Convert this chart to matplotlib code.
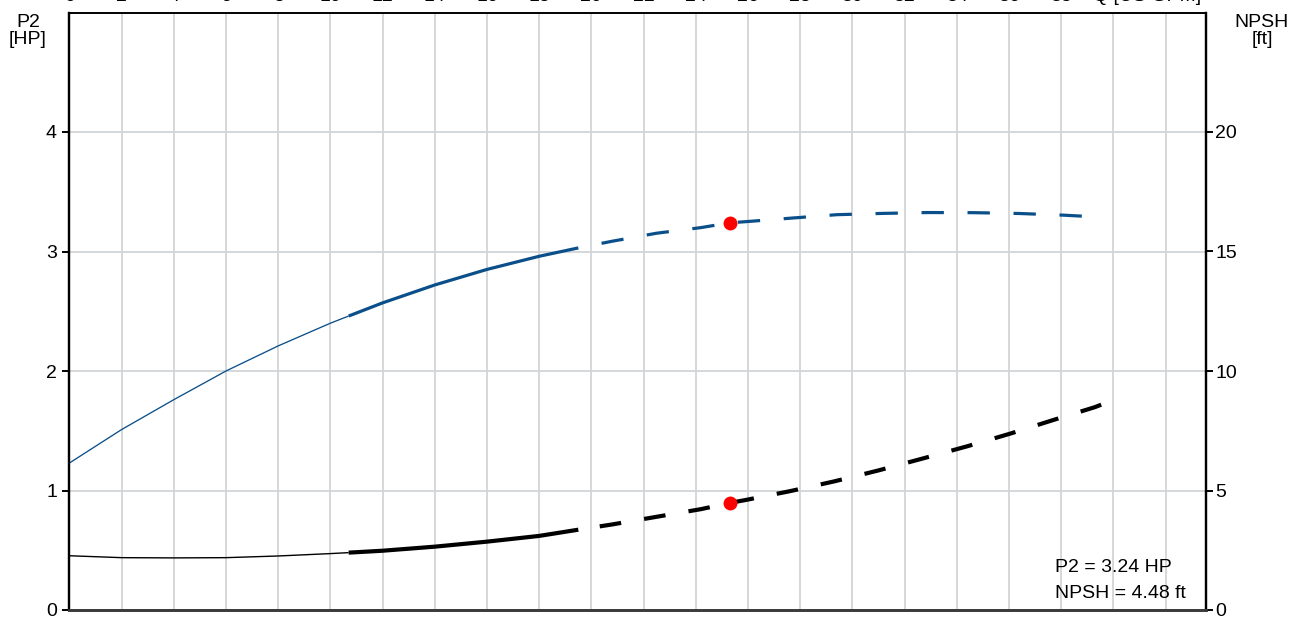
import matplotlib
matplotlib.use("Agg")
import matplotlib.pyplot as plt
from matplotlib.transforms import ScaledTranslation
import numpy as np

plt.rcParams['font.family'] = ['Liberation Sans', 'DejaVu Sans']

# Flow rate [US GPM] and shaft power P2 [HP]
q_p2 = [0, 2, 4, 6, 8, 10, 10.7, 12, 14, 16, 18, 19.5, 20.8, 22.5, 24.2,
        25.3, 26.0, 27.7, 29.4, 31.2, 32.9, 34.65, 36.4, 38.1, 39.55]
p2 = [1.23, 1.51, 1.76, 2.00, 2.21, 2.40, 2.46, 2.57, 2.72, 2.85, 2.96, 3.03,
      3.086, 3.153, 3.20, 3.24, 3.251, 3.28, 3.308, 3.319, 3.326, 3.325,
      3.318, 3.304, 3.287]

# Flow rate [US GPM] and NPSH [ft]
q_npsh = [0, 2, 4, 6, 8, 10, 10.7, 12, 14, 16, 18, 19.5, 20.8, 22.5, 24.2,
          25.3, 25.9, 27.6, 29.3, 31.0, 32.7, 34.4, 36.05, 37.7, 39.3, 39.58]
npsh = [2.27, 2.19, 2.18, 2.19, 2.26, 2.36, 2.40, 2.48, 2.65, 2.86, 3.10, 3.36,
        3.58, 3.90, 4.22, 4.48, 4.60, 4.97, 5.38, 5.84, 6.34, 6.85, 7.38,
        7.95, 8.49, 8.61]

# Operating range limits (thin -> thick -> dashed) and duty point
q_low, q_high = 10.7, 19.5
duty_q = 25.3
duty_p2 = 3.24
duty_npsh = 4.48

x_ticks = list(range(0, 44, 2))
x_tick_labels = [str(v) for v in range(0, 40, 2)] + ['', '']
p2_ticks = [0, 1, 2, 3, 4]
npsh_ticks = [0, 5, 10, 15, 20]

blue = '#0b4f8a'
grid_c = '#d2d5d8'

W, H = 1305, 617
fig = plt.figure(figsize=(W / 100, H / 100), dpi=100)
L, R, T, B = 69.4, 1206, 12.5, 610
ax = fig.add_axes([L / W, 1 - B / H, (R - L) / W, (B - T) / H])
ax2 = ax.twinx()

ax.set_xlim(0, 43.55)
ax.set_ylim(0, 5)
ax2.set_ylim(0, 25)


def split(q, v, lo, hi):
    q = np.asarray(q, float)
    v = np.asarray(v, float)
    a = q <= lo
    b = (q >= lo) & (q <= hi)
    c = q >= hi
    return (q[a], v[a]), (q[b], v[b]), (q[c], v[c])


# P2 curve
s1, s2, s3 = split(q_p2, p2, q_low, q_high)
ax.plot(*s1, color=blue, lw=0.95, solid_capstyle='butt', zorder=3)
ax.plot(*s2, color=blue, lw=2.3, solid_capstyle='butt', zorder=3)
ax.plot(*s3, color=blue, lw=2.3, linestyle=(7.0, (7.0, 7.4)),
        dash_capstyle='butt', zorder=3)
ax.plot([duty_q], [duty_p2], 'o', color='#ff0000', ms=10, mew=0, zorder=4)

# NPSH curve
n1, n2, n3 = split(q_npsh, npsh, q_low, q_high)
ax2.plot(*n1, color='black', lw=1.0, solid_capstyle='butt', zorder=3)
ax2.plot(*n2, color='black', lw=3.0, solid_capstyle='butt', zorder=3)
ax2.plot(*n3, color='black', lw=3.0, linestyle=(5.6, (5.2, 5.6)),
         dash_capstyle='butt', zorder=3)
ax2.plot([duty_q], [duty_npsh], 'o', color='#ff0000', ms=10, mew=0, zorder=4)

# Grid
ax.set_xticks(x_ticks)
ax.set_xticklabels(x_tick_labels)
ax.set_yticks(p2_ticks)
ax.grid(True, color=grid_c, lw=1.3, zorder=0)
ax.set_axisbelow(True)
ax2.set_yticks(npsh_ticks)

# Axes styling
fs = 14
top_pad = 5.5
ax.xaxis.tick_top()
ax.tick_params(axis='x', length=0, pad=top_pad, labelsize=fs)
ax.tick_params(axis='y', length=5, width=1.4, pad=4, labelsize=fs,
               direction='out')
ax2.tick_params(axis='y', length=5, width=1.4, pad=1.5, labelsize=fs,
                direction='out')
for a in (ax, ax2):
    a.spines['left'].set_linewidth(1.6)
    a.spines['right'].set_linewidth(1.6)
    a.spines['top'].set_linewidth(1.2)
    a.spines['bottom'].set_linewidth(2.0)
    a.spines['bottom'].set_color('#3c3c3c')
    a.spines['left'].set_color('black')
    a.spines['right'].set_color('black')

# Flow axis title sits in the tick-label row, after the last number
ax.text(41.3, 1.0, 'Q [US GPM]', ha='center', va='bottom', fontsize=fs,
        transform=ax.get_xaxis_transform() +
        ScaledTranslation(0, top_pad / 72, fig.dpi_scale_trans))

fig.text(28 / W, 1 - 14 / H, 'P2\n[HP]', ha='center', va='top',
         fontsize=fs, linespacing=1.0)
fig.text(1262 / W, 1 - 14 / H, 'NPSH\n[ft]', ha='center', va='top',
         fontsize=fs, linespacing=1.0)

fig.text(1055 / W, 1 - 567 / H, f'P2 = {duty_p2:.2f} HP', ha='left',
         va='center', fontsize=fs)
fig.text(1055 / W, 1 - 593 / H, f'NPSH = {duty_npsh:.2f} ft', ha='left',
         va='center', fontsize=fs)

fig.savefig('out.png', dpi=100)
